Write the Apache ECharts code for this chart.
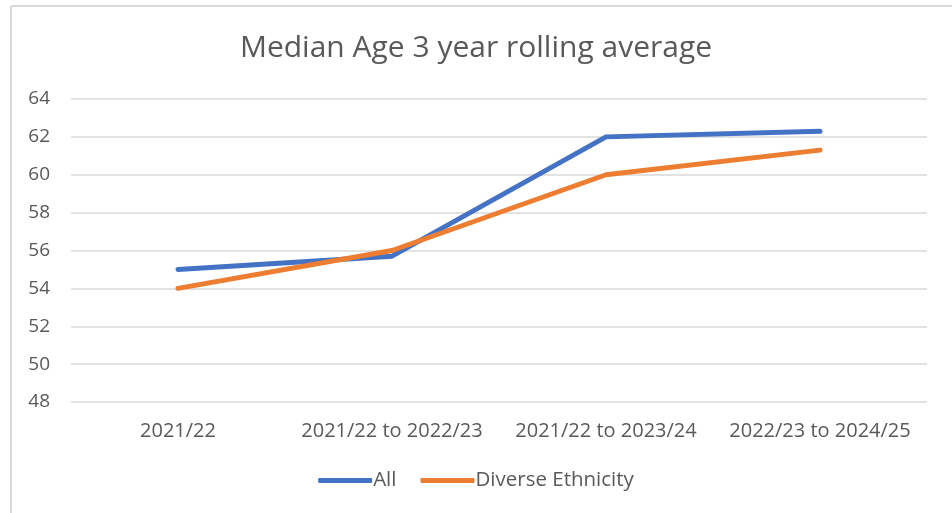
<!DOCTYPE html>
<html>
<head>
<meta charset="utf-8">
<script src="https://cdn.jsdelivr.net/npm/echarts@6/dist/echarts.min.js"></script>
<style>
  html, body { margin: 0; padding: 0; background: #fff; }
  #chart { width: 952px; height: 513px; }
</style>
</head>
<body>
<div id="chart"></div>
<script>
// Median age, 3-year rolling average
const categories = ['2021/22', '2021/22 to 2022/23', '2021/22 to 2023/24', '2022/23 to 2024/25'];
const allValues = [55.0, 55.7, 62.0, 62.3];
const diverseValues = [54.0, 56.0, 60.0, 61.3];
const seriesNames = ['All', 'Diverse Ethnicity'];

const FONT = '"Open Sans", "Noto Sans", sans-serif';
const TEXT = '#595959';

const chart = echarts.init(document.getElementById('chart'));
chart.setOption({
  backgroundColor: '#ffffff',
  animation: false,
  title: {
    text: 'Median Age 3 year rolling average',
    left: 'center',
    top: 28,
    textStyle: { fontFamily: FONT, fontSize: 30, fontWeight: 'normal', color: TEXT }
  },
  legend: {
    bottom: 17,
    left: 'center',
    itemWidth: 54,
    itemHeight: 5,
    itemGap: 24,
    icon: 'roundRect',
    textStyle: { fontFamily: FONT, fontSize: 20.5, color: TEXT, padding: [0, 0, 0, -4] },
    data: seriesNames
  },
  grid: { left: 71, right: 25, top: 99, bottom: 111 },
  xAxis: {
    type: 'category',
    data: categories,
    boundaryGap: true,
    axisLine: { show: false },
    axisTick: { show: false },
    axisLabel: { interval: 0, fontFamily: FONT, fontSize: 20, color: TEXT, margin: 19 }
  },
  yAxis: {
    type: 'value',
    min: 48,
    max: 64,
    interval: 2,
    axisLine: { show: false },
    axisTick: { show: false },
    axisLabel: { fontFamily: FONT, fontSize: 19, color: TEXT, margin: 21 },
    splitLine: { lineStyle: { color: '#d9d9d9', width: 1.5 } }
  },
  series: [
    {
      name: seriesNames[0],
      type: 'line',
      data: allValues,
      symbol: 'none',
      lineStyle: { color: '#4472C4', width: 5, cap: 'round', join: 'round' },
      itemStyle: { color: '#4472C4' }
    },
    {
      name: seriesNames[1],
      type: 'line',
      data: diverseValues,
      symbol: 'none',
      lineStyle: { color: '#ED7D31', width: 5, cap: 'round', join: 'round' },
      itemStyle: { color: '#ED7D31' }
    }
  ],
  graphic: [
    { type: 'line', shape: { x1: 11, y1: 6, x2: 11, y2: 513 }, style: { stroke: '#d9d9d9', lineWidth: 2 } },
    { type: 'line', shape: { x1: 11, y1: 6, x2: 952, y2: 6 }, style: { stroke: '#d9d9d9', lineWidth: 2 } }
  ]
});
</script>
</body>
</html>
